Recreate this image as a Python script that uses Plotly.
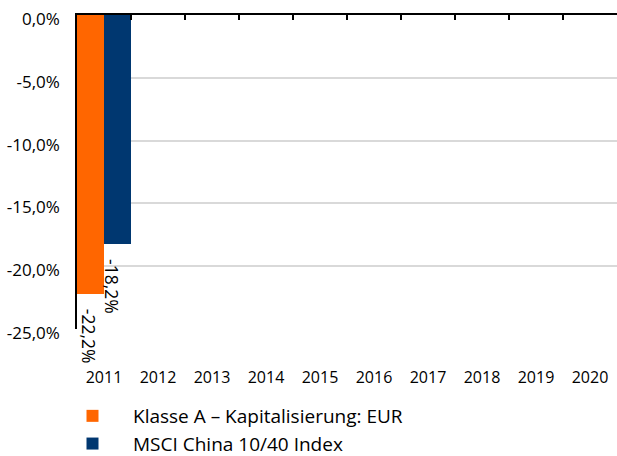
import plotly.graph_objects as go

years = ["2011", "2012", "2013", "2014", "2015", "2016", "2017", "2018", "2019", "2020"]
fund_name = "Klasse A – Kapitalisierung: EUR"
index_name = "MSCI China 10/40 Index"
fund_values = [-22.2, None, None, None, None, None, None, None, None, None]
index_values = [-18.2, None, None, None, None, None, None, None, None, None]
y_ticks = [0, -5, -10, -15, -20, -25]

ORANGE = "#ff6600"
NAVY = "#003770"
FONT = "Open Sans, sans-serif"
W, H = 617, 456

fig = go.Figure()
fig.add_trace(go.Bar(x=years, y=fund_values, name=fund_name, marker_color=ORANGE,
                     marker_line_width=0, legendgroup="a"))
fig.add_trace(go.Bar(x=years, y=index_values, name=index_name, marker_color=NAVY,
                     marker_line_width=0, legendgroup="b"))

def fmt(v):
    return f"{v:.1f}%".replace(".", ",")

for vals, shift in ((fund_values, -15.5), (index_values, 8)):
    for i, v in enumerate(vals):
        if v is None:
            continue
        fig.add_annotation(x=i, y=v, xref="x", yref="y", text=fmt(v), textangle=90,
                           showarrow=False, xanchor="center", yanchor="top",
                           xshift=shift, yshift=-13,
                           font=dict(family=FONT, size=17.5, color="black"))

# top axis line with boundary ticks
fig.add_trace(go.Scatter(x=[None], y=[None], xaxis="x2", showlegend=False, hoverinfo="skip"))

fig.update_layout(
    width=W, height=H,
    margin=dict(l=77, r=0, t=15, b=127, autoexpand=False),
    paper_bgcolor="white", plot_bgcolor="white",
    barmode="group", bargap=0, bargroupgap=0,
    font=dict(family=FONT, size=16, color="black"),
    xaxis=dict(type="category", categoryorder="array", categoryarray=years,
               range=[-0.5, 9.5], showline=False, showgrid=False, ticks="",
               tickangle=0, ticklabelstandoff=37, tickfont=dict(size=16)),
    xaxis2=dict(overlaying="x", side="top", range=[-0.5, 9.5], anchor="y",
                tickmode="array", tickvals=[i + 0.5 for i in range(9)],
                showticklabels=False, ticks="inside", ticklen=5, tickwidth=1.5,
                tickcolor="black", showline=True, linecolor="black", linewidth=1.5,
                showgrid=False, zeroline=False),
    yaxis=dict(range=[-25, 0], tickmode="array", tickvals=y_ticks,
               ticktext=[fmt(v) for v in y_ticks],
               showgrid=True, gridcolor="#d9d9d9", gridwidth=1.5,
               showline=True, linecolor="black", linewidth=1.5,
               zeroline=False, ticks="", ticklabelstandoff=12, ticklabelshift=4,
               ticklabeloverflow="allow", tickfont=dict(size=17)),
    legend=dict(xref="container", yref="container", x=52 / W, y=1 - 397 / H,
                xanchor="left", yanchor="top", orientation="v",
                itemwidth=71, tracegroupgap=0, traceorder="grouped",
                font=dict(size=19), bgcolor="rgba(0,0,0,0)"),
    showlegend=True,
)

fig.write_html("out.html", config={"displayModeBar": False},
               post_script="document.body.style.margin='0';")
